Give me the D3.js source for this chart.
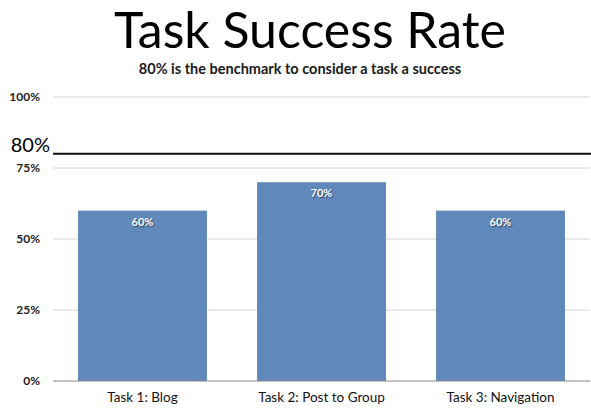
<!DOCTYPE html>
<html>
<head>
<meta charset="utf-8">
<script src="https://cdn.jsdelivr.net/npm/d3@7.9.0/dist/d3.min.js"></script>
<style>
  html, body { margin: 0; padding: 0; background: #fff; }
  svg { display: block; font-family: Lato, "Open Sans", sans-serif; }
</style>
</head>
<body>
<svg id="chart" width="591" height="410"></svg>
<script>
const tasks = ['Task 1: Blog', 'Task 2: Post to Group', 'Task 3: Navigation'];
const successRates = [60, 70, 60];
const yTicks = [0, 25, 50, 75, 100];
const benchmark = 80;

const width = 591;
const height = 410;
const margin = { top: 97, right: 1, bottom: 29, left: 53 };

const svg = d3.select('#chart');

const x = d3.scaleBand().domain(tasks).range([margin.left, width - margin.right]).paddingInner(0.28).paddingOuter(0.14);
const y = d3.scaleLinear().domain([0, 100]).range([height - margin.bottom, margin.top]);

// title
svg.append('text').attr('x', 310).attr('y', 48).attr('text-anchor', 'middle')
  .style('font-size', '50px').style('fill', '#000').text('Task Success Rate');
svg.append('text').attr('x', 300).attr('y', 74).attr('text-anchor', 'middle')
  .style('font-size', '14.5px').style('font-weight', 'bold').style('fill', '#1a1a1a')
  .text('80% is the benchmark to consider a task a success');

// gridlines
svg.append('g').attr('class', 'grid')
  .selectAll('line').data(yTicks.filter(d => d > 0)).join('line')
  .attr('x1', margin.left).attr('x2', width - margin.right)
  .attr('y1', d => y(d)).attr('y2', d => y(d))
  .attr('stroke', '#d4d4d4').attr('stroke-width', 1);

// y tick labels
svg.append('g').selectAll('text').data(yTicks).join('text')
  .attr('x', 40).attr('y', d => y(d) + 4)
  .attr('text-anchor', 'end')
  .style('font-size', '12px').style('font-weight', 'bold').style('fill', '#222')
  .text(d => d + '%');

// bars
svg.append('g').selectAll('rect').data(successRates).join('rect')
  .attr('x', (d, i) => x(tasks[i]))
  .attr('y', d => y(d))
  .attr('width', x.bandwidth())
  .attr('height', d => y(0) - y(d))
  .attr('fill', '#6088ba');

// value labels
svg.append('g').selectAll('text').data(successRates).join('text')
  .attr('x', (d, i) => x(tasks[i]) + x.bandwidth() / 2)
  .attr('y', d => y(d) + 15)
  .attr('text-anchor', 'middle')
  .style('font-size', '11px').style('font-weight', 'bold').style('fill', '#fff')
  .style('text-shadow', '1px 1px 1px rgba(0,0,0,0.5)')
  .text(d => d + '%');

// baseline
svg.append('line')
  .attr('x1', margin.left).attr('x2', width - margin.right)
  .attr('y1', y(0)).attr('y2', y(0))
  .attr('stroke', '#888').attr('stroke-width', 1);

// x labels
svg.append('g').selectAll('text').data(tasks).join('text')
  .attr('x', d => x(d) + x.bandwidth() / 2)
  .attr('y', y(0) + 21)
  .attr('text-anchor', 'middle')
  .style('font-size', '13.5px').style('fill', '#111')
  .text(d => d);

// benchmark line
svg.append('line')
  .attr('x1', margin.left).attr('x2', width)
  .attr('y1', y(benchmark)).attr('y2', y(benchmark))
  .attr('stroke', '#111').attr('stroke-width', 2);
svg.append('text').attr('x', 50).attr('y', y(benchmark) - 2)
  .attr('text-anchor', 'end')
  .style('font-size', '20px').style('fill', '#000')
  .text(benchmark + '%');
</script>
</body>
</html>
